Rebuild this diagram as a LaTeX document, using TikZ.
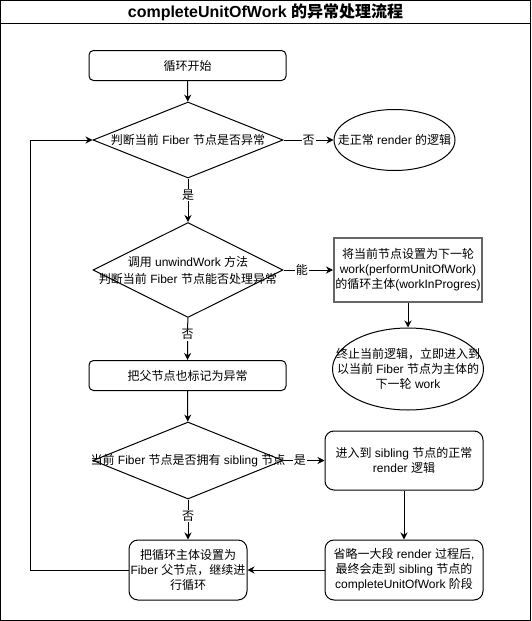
\documentclass[tikz,border=0pt]{standalone}
\usepackage{fontspec}
\setmainfont{Liberation Sans}
\newfontfamily\cjk{Noto Sans CJK SC}
% los caracteres chinos pasan solos a la fuente CJK
\XeTeXinterchartokenstate=1
\newXeTeXintercharclass\hanzi
\count255="3000
\loop\XeTeXcharclass\count255=\hanzi\advance\count255 by 1\ifnum\count255<"A000\repeat
\count255="FF00
\loop\XeTeXcharclass\count255=\hanzi\advance\count255 by 1\ifnum\count255<"FFF0\repeat
\XeTeXinterchartoks 0 \hanzi = {\cjk}
\XeTeXinterchartoks 4095 \hanzi = {\cjk}
\XeTeXinterchartoks \hanzi 0 = {\rmfamily}
\XeTeXinterchartoks \hanzi 4095 = {\rmfamily}
\usetikzlibrary{shapes.geometric,arrows.meta}

\tikzstyle{every node}= [font=\fontsize{12}{15}\selectfont,align=center]
\tikzstyle{paso}= [rectangle,draw,black,rounded corners=4.5pt,minimum width=197pt,minimum height=30pt,inner sep=0pt]
\tikzstyle{bloque}= [rectangle,draw,black,rounded corners=9pt,minimum height=60pt,inner sep=0pt]
\tikzstyle{caja}= [rectangle,draw=black!60,line width=2pt,minimum width=148pt,minimum height=64pt,inner sep=0pt]
\tikzstyle{decision}= [diamond,draw,black,minimum width=190pt,inner sep=0pt]
\tikzstyle{fin}= [ellipse,draw,black,inner sep=0pt]
\tikzstyle{etiqueta}= [fill=white,inner sep=1pt]
\tikzstyle{flecha}= [black,-{Stealth[length=7pt,width=7pt]}]

\begin{document}
\begin{tikzpicture}[x=1pt,y=-1pt,line width=1pt]

		\useasboundingbox (0,0) rectangle (531,621);
		\draw (0.5,0.5) rectangle (530.5,620.5);
		\draw (0.5,23) -- (530.5,23);
		\node (titulo) at (265.5,12) {\fontsize{16}{19}\selectfont\bfseries completeUnitOfWork 的异常处理流程};

		\node (a) at (187.5,65.5) [paso] {循环开始};

		\node (b) at (188,140) [decision,minimum height=76pt] {};
		\node (bt) at (b) {判断当前 Fiber 节点是否异常};

		\node (c) at (394.5,140) [fin,minimum width=121pt,minimum height=61pt] {};
		\node (ct) at (c) {走正常 render 的逻辑};

		\node (d) at (188,270) [decision,minimum height=95pt] {};
		\node (dt) at (d) [font=\fontsize{12}{17}\selectfont] {调用 unwindWork 方法\\判断当前 Fiber 节点能否处理异常};

		\node (e) at (408,270) [caja] {将当前节点设置为下一轮\\work(performUnitOfWork)\\的循环主体(workInProgres)};

		\node (f) at (408,369) [fin,minimum width=151pt,minimum height=82pt] {};
		\node (ft) at (f) {终止当前逻辑，立即进入到\\以当前 Fiber 节点为主体的\\下一轮 work};

		\node (g) at (187.5,375.5) [paso] {把父节点也标记为异常};

		\node (h) at (188,460.5) [decision,minimum height=77pt] {};
		\node (ht) at (h) {当前 Fiber 节点是否拥有 sibling 节点};

		\node (i) at (404,460.5) [bloque,minimum width=158pt,minimum height=59pt] {进入到 sibling 节点的正常\\render 逻辑};
		\node (j) at (404,570) [bloque,minimum width=158pt] {省略一大段 render 过程后,\\最终会走到 sibling 节点的\\completeUnitOfWork 阶段};
		\node (k) at (188,570) [bloque,minimum width=118pt] {把循环主体设置为\\Fiber 父节点，继续进\\行循环};

		\coordinate (vuelta) at (30,140);

		\path[flecha] (a) edge[] node {} (b);
		\path[flecha] (b) edge[] node[etiqueta] {否} (c);
		\path[flecha] (b) edge[] node[etiqueta,pos=0.38] {是} (d);
		\path[flecha] (d) edge[] node[etiqueta,pos=0.37] {能} (e);
		\path[flecha] (e) edge[] node {} (f);
		\path[flecha] (d) edge[] node[etiqueta,pos=0.4] {否} (g);
		\path[flecha] (g) edge[] node {} (h);
		\path[flecha] (h) edge[] node[etiqueta,pos=0.4] {是} (i);
		\path[flecha] (i) edge[] node {} (j);
		\path[flecha] (j) edge[] node {} (k);
		\path[flecha] (h) edge[] node[etiqueta,pos=0.41] {否} (k);
		\draw[flecha] (k.west) -| (vuelta) -- (b.west);

\end{tikzpicture}
\end{document}
